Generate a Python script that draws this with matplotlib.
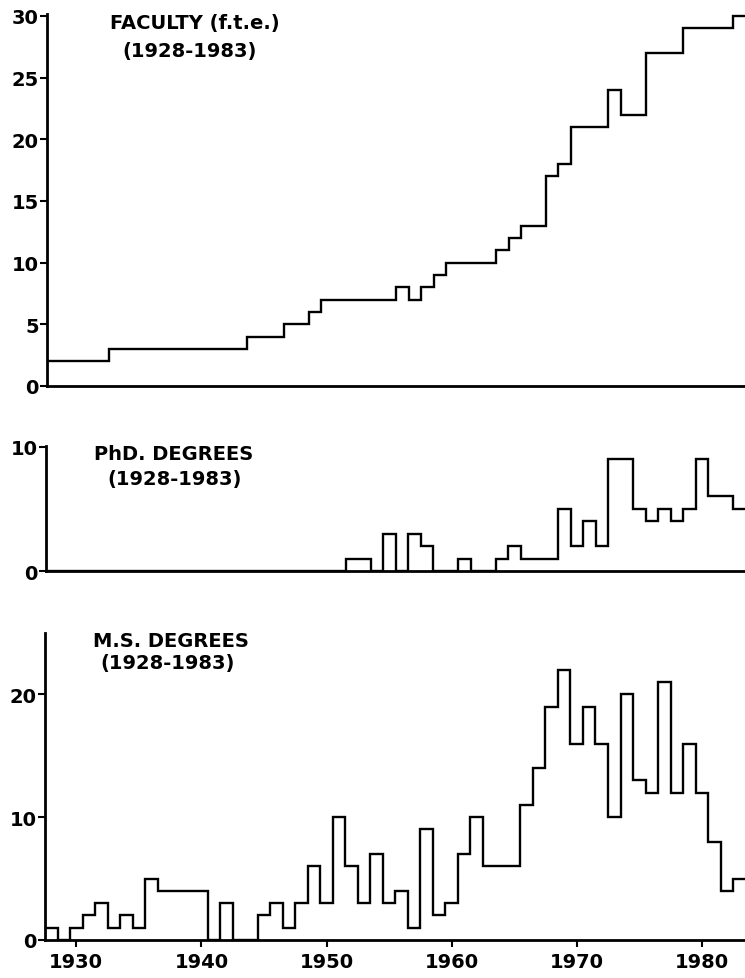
import matplotlib
matplotlib.use("Agg")
import matplotlib.pyplot as plt

# yearly values, 1928-1983
years = list(range(1928, 1984))

faculty = [2, 2, 2, 2, 2,
           3, 3, 3, 3, 3, 3, 3, 3, 3, 3, 3,
           4, 4, 4, 5, 5, 6,
           7, 7, 7, 7, 7, 7,
           8, 7, 8, 9,
           10, 10, 10, 10, 11, 12, 13, 13,
           17, 18, 21, 21, 21, 24, 22, 22,
           27, 27, 27, 29, 29, 29, 29, 30]

phd = [0] * 24 + [1, 1, 0, 3, 0, 3, 2, 0, 0, 1, 0, 0, 1, 2, 1, 1, 1,
                  5, 2, 4, 2, 9, 9, 5, 4, 5, 4, 5, 9, 6, 6, 5]

ms = [1, 0, 1, 2, 3, 1, 2, 1, 5, 4, 4, 4, 4,
      0, 3, 0, 0, 2, 3, 1, 3, 6, 3, 10, 6, 3, 7, 3, 4, 1, 9, 2, 3, 7, 10,
      6, 6, 6, 11, 14, 19, 22, 16, 19, 16, 10, 20, 13, 12, 21, 12, 16, 12,
      8, 4, 5]

period = "(1928-1983)"
titles = ["FACULTY (f.t.e.)", "PhD. DEGREES", "M.S. DEGREES"]
xticks = [1930, 1940, 1950, 1960, 1970, 1980]

W, H = 745, 979
fig = plt.figure(figsize=(W / 100, H / 100), dpi=100)
plt.rcParams['font.family'] = ['DejaVu Sans']


def box(left, top, bottom):
    # axes rectangle from pixel positions, right edge runs to the border
    return [left / W, 1 - bottom / H, 1 - left / W, (bottom - top) / H]


def label(x, y, s, size=14):
    fig.text(x / W, 1 - y / H, s, ha='center', va='center', fontsize=size,
             fontweight='bold')


edges = [y - 0.5 for y in years] + [years[-1] + 0.5]

panels = [
    (faculty, box(47, 15, 387), 30.15, [0, 5, 10, 15, 20, 25, 30]),
    (phd, box(46, 447, 572), 10.05, [0, 10]),
    (ms, box(45, 634, 941), 25, [0, 10, 20]),
]

axes = []
for vals, rect, top, yt in panels:
    ax = fig.add_axes(rect)
    ax.stairs(vals, edges, baseline=None, color='black', linewidth=1.7)
    ax.set_xlim(1927.5, 1983.45)
    ax.set_ylim(0, top)
    ax.set_yticks(yt)
    for s in ['top', 'right']:
        ax.spines[s].set_visible(False)
    for s in ['left', 'bottom']:
        ax.spines[s].set_linewidth(2.0)
    ax.tick_params(axis='y', direction='out', length=5, width=1.5, pad=1,
                   labelsize=14)
    ax.tick_params(axis='x', bottom=False, labelbottom=False)
    for t in ax.get_yticklabels():
        t.set_fontweight('bold')
    axes.append(ax)

axb = axes[-1]
axb.set_xticks(xticks)
axb.tick_params(axis='x', bottom=True, labelbottom=True, direction='out',
                length=5, width=1.5, pad=4, labelsize=14)
for t in axb.get_xticklabels():
    t.set_fontweight('bold')

label(195, 24, titles[0])
label(190, 51, period)
label(174, 455, titles[1])
label(175, 480, period)
label(171, 642, titles[2])
label(168, 664, period)

fig.savefig("out.png", dpi=100)
